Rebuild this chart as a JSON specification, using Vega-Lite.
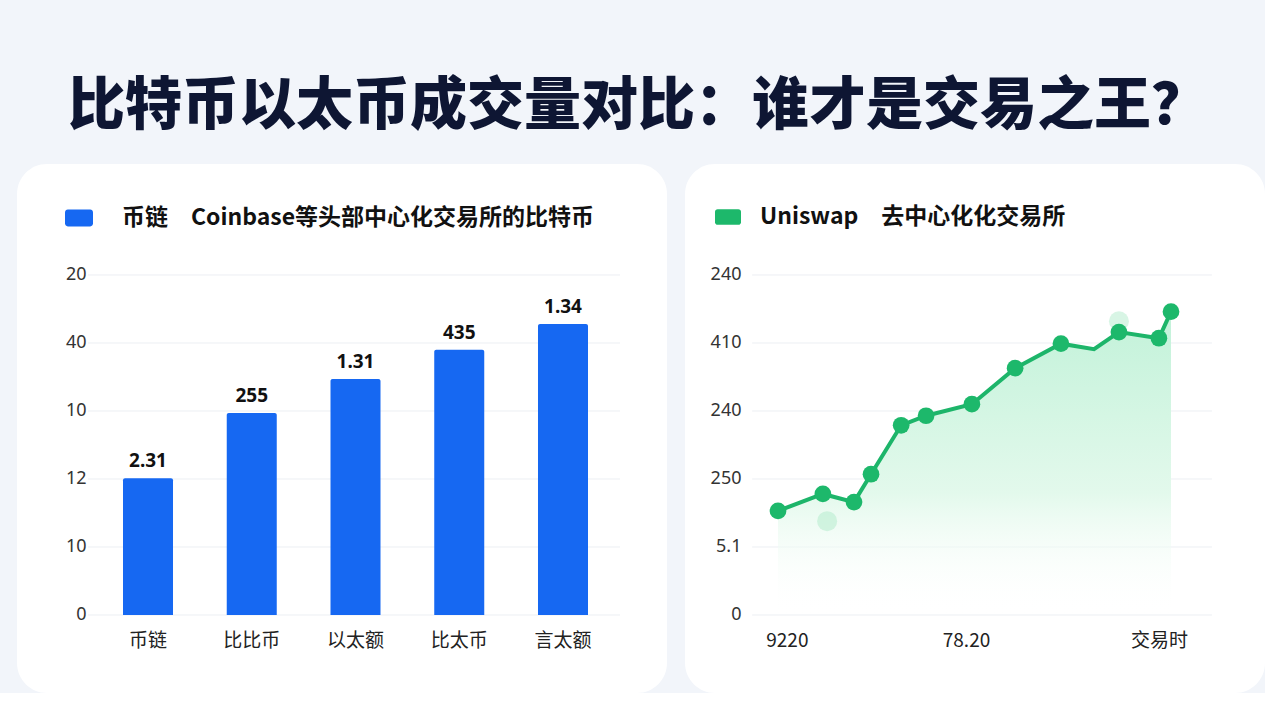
{
  "$schema": "https://vega.github.io/schema/vega-lite/v6.json",
  "background": "#f2f5fa",
  "padding": {"left": 17, "top": 78, "right": 0, "bottom": 0},
  "title": {
    "text": "比特币以太币成交量对比：谁才是交易之王？",
    "font": "Noto Sans CJK SC",
    "fontSize": 57,
    "fontWeight": 900,
    "color": "#0e1633",
    "anchor": "start",
    "dx": 51,
    "offset": 28
  },
  "config": {
    "font": "Noto Sans CJK SC",
    "view": {"fill": "#ffffff", "stroke": null, "cornerRadius": 30},
    "axis": {"grid": false, "domain": false, "ticks": false, "labelPadding": 0, "zindex": 2}
  },
  "spacing": 18,
  "resolve": {"scale": {"color": "independent"}, "legend": {"color": "independent"}},
  "datasets": {
    "bars": [
      {"category": "币链", "value": 20.1, "label": "2.31"},
      {"category": "比比币", "value": 29.7, "label": "255"},
      {"category": "以太额", "value": 34.7, "label": "1.31"},
      {"category": "比太币", "value": 39.0, "label": "435"},
      {"category": "言太额", "value": 42.8, "label": "1.34"}
    ],
    "gridLeft": [
      {"v": 0, "a": "币链", "b": "言太额"},
      {"v": 10, "a": "币链", "b": "言太额"},
      {"v": 20, "a": "币链", "b": "言太额"},
      {"v": 30, "a": "币链", "b": "言太额"},
      {"v": 40, "a": "币链", "b": "言太额"},
      {"v": 50, "a": "币链", "b": "言太额"}
    ],
    "gridRight": [
      {"v": 0, "a": -0.79, "b": 13.25},
      {"v": 10, "a": -0.79, "b": 13.25},
      {"v": 20, "a": -0.79, "b": 13.25},
      {"v": 30, "a": -0.79, "b": 13.25},
      {"v": 40, "a": -0.79, "b": 13.25},
      {"v": 50, "a": -0.79, "b": 13.25}
    ],
    "uniswap": [
      {"t": 0, "v": 15.3, "dot": true},
      {"t": 1.37, "v": 17.8, "dot": true},
      {"t": 2.32, "v": 16.6, "dot": true},
      {"t": 2.84, "v": 20.7, "dot": true},
      {"t": 3.76, "v": 27.9, "dot": true},
      {"t": 4.52, "v": 29.3, "dot": true},
      {"t": 5.92, "v": 31.0, "dot": true},
      {"t": 7.24, "v": 36.3, "dot": true},
      {"t": 8.64, "v": 39.9, "dot": true},
      {"t": 9.65, "v": 39.1, "dot": false},
      {"t": 10.41, "v": 41.6, "dot": true},
      {"t": 11.63, "v": 40.7, "dot": true},
      {"t": 12, "v": 44.6, "dot": true}
    ],
    "ghosts": [
      {"t": 1.5, "v": 13.8},
      {"t": 10.41, "v": 43.2}
    ]
  },
  "hconcat": [
    {
      "width": 650,
      "height": 529,
      "layer": [
        {
          "data": {"name": "gridLeft"},
          "mark": {"type": "rule", "color": "#eceff3", "strokeWidth": 1},
          "encoding": {
            "x": {
              "field": "a",
              "type": "nominal",
              "bandPosition": -0.7,
              "scale": {"domain": ["币链", "比比币", "以太额", "比太币", "言太额"], "range": [106, 571], "paddingInner": 0.518, "paddingOuter": 0},
              "axis": {"title": null, "orient": "bottom", "offset": -62, "labelAngle": 0, "labelFontSize": 19, "labelColor": "#222222", "labelBaseline": "top"}
            },
            "x2": {"field": "b", "bandPosition": 1.64},
            "y": {
              "field": "v",
              "type": "quantitative",
              "scale": {"domain": [-11.47, 66.32], "nice": false, "zero": false},
              "axis": {
                "title": null,
                "values": [0, 10, 20, 30, 40, 50],
                "offset": -69,
                "labelFontSize": 18,
                "labelColor": "#333333",
                "labelFont": "Noto Sans",
                "labelExpr": "datum.value == 50 ? '20' : datum.value == 40 ? '40' : datum.value == 30 ? '10' : datum.value == 20 ? '12' : datum.value == 10 ? '10' : '0'"
              }
            }
          }
        },
        {
          "data": {"name": "bars"},
          "mark": {"type": "bar", "cornerRadiusTopLeft": 2, "cornerRadiusTopRight": 2},
          "encoding": {
            "x": {"field": "category", "type": "nominal", "sort": null, "axis": {"title": null}},
            "y": {"field": "value", "type": "quantitative", "axis": {"title": null}},
            "y2": {"datum": 0},
            "color": {
              "datum": "币链\u2003Coinbase等头部中心化交易所的比特币",
              "type": "nominal",
              "scale": {"range": ["#1668f2"]},
              "legend": {
                "title": null,
                "orient": "none",
                "legendX": 48,
                "legendY": 40,
                "padding": 0,
                "symbolType": "M-0.8,-0.6H0.8A0.2,0.2 0 0 1 1,-0.4V0.4A0.2,0.2 0 0 1 0.8,0.6H-0.8A0.2,0.2 0 0 1 -1,0.4V-0.4A0.2,0.2 0 0 1 -0.8,-0.6Z",
                "symbolSize": 784,
                "symbolStrokeWidth": 0,
                "labelFontSize": 23,
                "labelFontWeight": "bold",
                "labelColor": "#111111",
                "labelOffset": 29,
                "labelLimit": 600
              }
            }
          }
        },
        {
          "data": {"name": "bars"},
          "mark": {"type": "text", "baseline": "bottom", "dy": -7, "fontSize": 19, "fontWeight": "bold", "color": "#111111", "font": "Noto Sans"},
          "encoding": {
            "x": {"field": "category", "type": "nominal", "sort": null, "axis": {"title": null}},
            "y": {"field": "value", "type": "quantitative", "axis": {"title": null}},
            "text": {"field": "label"}
          }
        }
      ]
    },
    {
      "width": 580,
      "height": 529,
      "layer": [
        {
          "data": {"name": "gridRight"},
          "mark": {"type": "rule", "color": "#eceff3", "strokeWidth": 1},
          "encoding": {
            "x": {
              "field": "a",
              "type": "quantitative",
              "scale": {"domain": [-2.84, 14.87], "nice": false, "zero": false},
              "axis": {
                "title": null,
                "values": [0.27, 5.74, 11.63],
                "offset": -62,
                "labelFontSize": 19,
                "labelColor": "#222222",
                "labelBaseline": "top",
                "labelExpr": "datum.value < 1 ? '9220' : datum.value < 8 ? '78.20' : '交易时'"
              }
            },
            "x2": {"field": "b"},
            "y": {
              "field": "v",
              "type": "quantitative",
              "scale": {"domain": [-11.47, 66.32], "nice": false, "zero": false},
              "axis": {
                "title": null,
                "values": [0, 10, 20, 30, 40, 50],
                "offset": -56,
                "labelFontSize": 18,
                "labelColor": "#333333",
                "labelFont": "Noto Sans",
                "labelExpr": "datum.value == 50 ? '240' : datum.value == 40 ? '410' : datum.value == 30 ? '240' : datum.value == 20 ? '250' : datum.value == 10 ? '5.1' : '0'"
              }
            }
          }
        },
        {
          "data": {"name": "uniswap"},
          "mark": {
            "type": "area",
            "color": {
              "gradient": "linear",
              "x1": 0, "y1": 0, "x2": 0, "y2": 1,
              "stops": [
                {"offset": 0, "color": "#c2f2d9"},
                {"offset": 0.6, "color": "#e3f9ec"},
                {"offset": 1, "color": "rgba(255,255,255,0)"}
              ]
            }
          },
          "encoding": {
            "x": {"field": "t", "type": "quantitative", "axis": {"title": null}},
            "y": {"field": "v", "type": "quantitative", "axis": {"title": null}},
            "y2": {"datum": 0}
          }
        },
        {
          "data": {"name": "uniswap"},
          "mark": {"type": "line", "color": "#1db56a", "strokeWidth": 4},
          "encoding": {
            "x": {"field": "t", "type": "quantitative", "axis": {"title": null}},
            "y": {"field": "v", "type": "quantitative", "axis": {"title": null}}
          }
        },
        {
          "data": {"name": "ghosts"},
          "mark": {"type": "circle", "size": 400, "color": "#a9e8c6", "opacity": 0.45},
          "encoding": {
            "x": {"field": "t", "type": "quantitative", "axis": {"title": null}},
            "y": {"field": "v", "type": "quantitative", "axis": {"title": null}}
          }
        },
        {
          "data": {"name": "uniswap"},
          "transform": [{"filter": "datum.dot"}],
          "mark": {"type": "circle", "size": 280, "opacity": 1},
          "encoding": {
            "x": {"field": "t", "type": "quantitative", "axis": {"title": null}},
            "y": {"field": "v", "type": "quantitative", "axis": {"title": null}},
            "color": {
              "datum": "Uniswap\u2003去中心化化交易所",
              "type": "nominal",
              "scale": {"range": ["#1db86b"]},
              "legend": {
                "title": null,
                "orient": "none",
                "legendX": 30,
                "legendY": 40,
                "padding": 0,
                "symbolType": "M-0.8,-0.6H0.8A0.2,0.2 0 0 1 1,-0.4V0.4A0.2,0.2 0 0 1 0.8,0.6H-0.8A0.2,0.2 0 0 1 -1,0.4V-0.4A0.2,0.2 0 0 1 -0.8,-0.6Z",
                "symbolSize": 676,
                "symbolStrokeWidth": 0,
                "symbolOpacity": 1,
                "labelFontSize": 23,
                "labelFontWeight": "bold",
                "labelColor": "#111111",
                "labelOffset": 19,
                "labelLimit": 600
              }
            }
          }
        }
      ]
    }
  ]
}
